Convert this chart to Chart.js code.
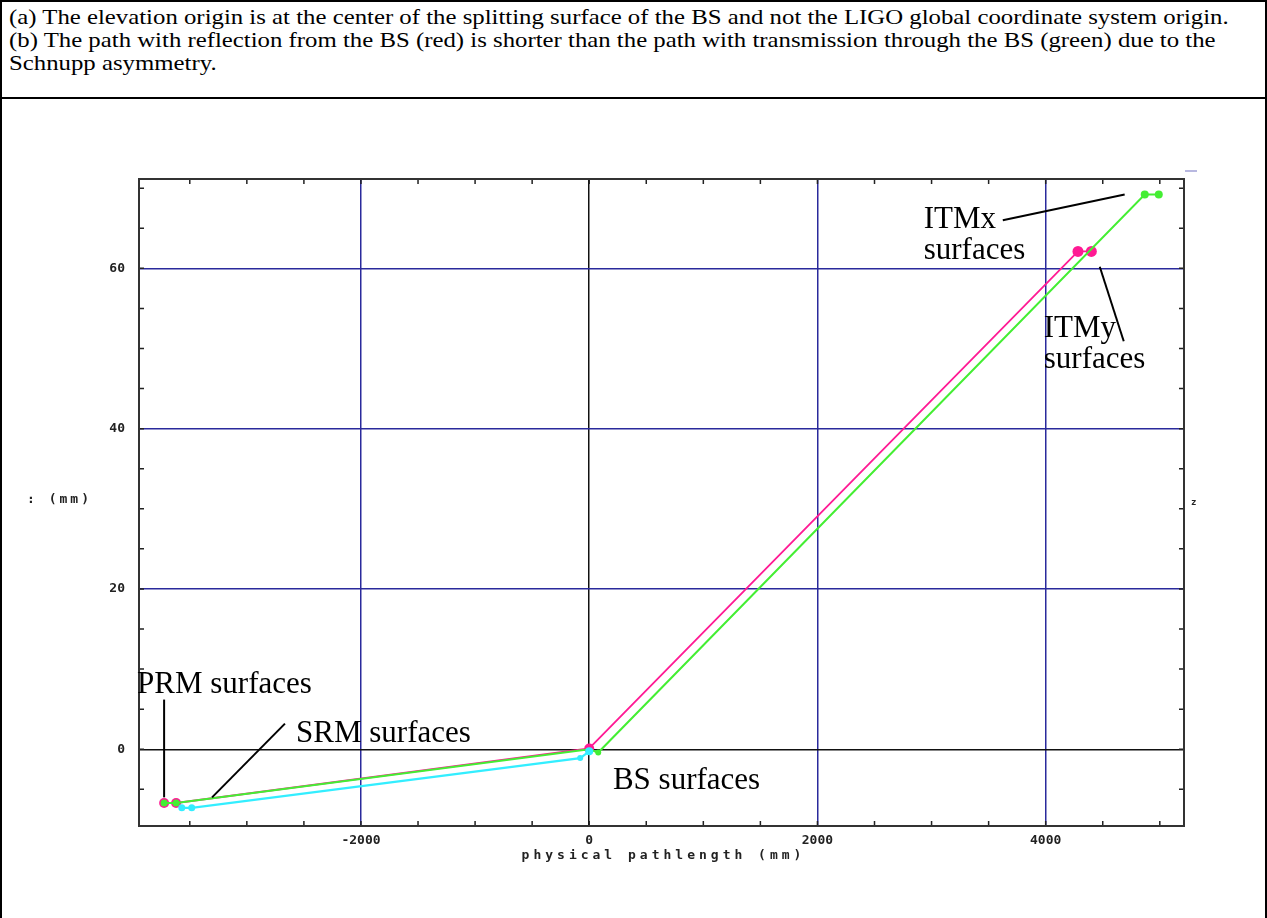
<!DOCTYPE html>
<html>
<head>
<meta charset="utf-8">
<script src="https://cdn.jsdelivr.net/npm/chart.js@4.4.1/dist/chart.umd.min.js"></script>
<style>
html,body{margin:0;padding:0;background:#fff;}
body{width:1267px;height:918px;position:relative;overflow:hidden;}
#wrap{position:absolute;left:0;top:0;width:1267px;height:918px;}
#frame{position:absolute;left:0;top:0;width:1263px;height:960px;border:2px solid #000;pointer-events:none;}
#note{position:absolute;left:2px;top:2px;width:1263px;height:97px;border-bottom:2px solid #000;box-sizing:border-box;
  padding:4px 0 0 7px;color:#000;background:#fff;overflow:hidden;}
#note div{font-family:"Liberation Serif","Times New Roman",serif;font-size:21px;line-height:23px;white-space:nowrap;
  transform:scaleX(1.18);transform-origin:0 0;}
#tab{position:absolute;left:1185px;top:170px;width:12px;height:2px;background:#b8b8e0;}
</style>
</head>
<body>
<div id="wrap"><canvas id="c"></canvas></div>
<div id="note"><div>(a) The elevation origin is at the center of the splitting surface of the BS and not the LIGO global coordinate system origin.<br>(b) The path with reflection from the BS (red) is shorter than the path with transmission through the BS (green) due to the<br>Schnupp asymmetry.</div></div>
<div id="frame"></div>
<div id="tab"></div>
<script>
// reflected path (red): PRM -> BS -> ITMy
const redX = [-3725, -3620, 0, 4283, 4400];
const redY = [-6.7, -6.7, 0.1, 62.1, 62.1];
// transmitted path (green): PRM -> BS -> ITMx
const greenX = [-3725, -3620, 0, 79, 4868, 4991];
const greenY = [-6.7, -6.7, 0, -0.4, 69.2, 69.2];
// SRM -> BS (cyan)
const cyanX = [-3570, -3483, -79, 0];
const cyanY = [-7.3, -7.3, -1.1, -0.25];

const xRange = [-3945, 5212];
const yRange = [-9.57, 71.14];
const xTicks = [-3500, -3000, -2500, -2000, -1500, -1000, -500, 0, 500, 1000, 1500, 2000, 2500, 3000, 3500, 4000, 4500, 5000];
const yTicks = [-5, 0, 5, 10, 15, 20, 25, 30, 35, 40, 45, 50, 55, 60, 65, 70];
const xLabels = [-2000, 0, 2000, 4000];
const yLabels = [0, 20, 40, 60];

// labels with leader lines, in data units
const notes = [
  {lines:['PRM surfaces'], x:-3962, y:7.0},
  {lines:['SRM surfaces'], x:-2569, y:0.9},
  {lines:['BS surfaces'], x:208, y:-5.0},
  {lines:['ITMx','surfaces'], x:2931, y:65.0},
  {lines:['ITMy','surfaces'], x:3983, y:51.4}
];
const leaders = [
  [[-3725, 6.2], [-3725, -6.0]],
  [[-2666, 3.2], [-3305, -6.0]],
  [[3624, 66.0], [4692, 69.2]],
  [[4474, 60.2], [4684, 50.9]]
];

const pts = (xs, ys) => xs.map((x, i) => ({x, y: ys[i]}));

const decor = {
  id: 'decor',
  afterDatasetsDraw(chart){
    const {ctx, chartArea: a, scales: {x, y}} = chart;
    ctx.save();
    // inward ticks on all four sides
    ctx.strokeStyle = '#222'; ctx.lineWidth = 1.5;
    ctx.beginPath();
    xTicks.forEach(v => {
      const px = x.getPixelForValue(v);
      ctx.moveTo(px, a.bottom); ctx.lineTo(px, a.bottom - 5);
      ctx.moveTo(px, a.top); ctx.lineTo(px, a.top + 5);
    });
    yTicks.forEach(v => {
      const py = y.getPixelForValue(v);
      ctx.moveTo(a.left, py); ctx.lineTo(a.left + 5, py);
      ctx.moveTo(a.right, py); ctx.lineTo(a.right - 5, py);
    });
    ctx.stroke();
    ctx.strokeStyle = '#333'; ctx.lineWidth = 2;
    ctx.strokeRect(a.left, a.top, a.right - a.left, a.bottom - a.top);

    // leader lines + labels
    ctx.strokeStyle = '#000'; ctx.lineWidth = 2;
    leaders.forEach(l => {
      ctx.beginPath();
      ctx.moveTo(x.getPixelForValue(l[0][0]), y.getPixelForValue(l[0][1]));
      ctx.lineTo(x.getPixelForValue(l[1][0]), y.getPixelForValue(l[1][1]));
      ctx.stroke();
    });
    ctx.fillStyle = '#000';
    ctx.font = '31px "Liberation Serif", "Times New Roman", serif';
    ctx.textAlign = 'left'; ctx.textBaseline = 'alphabetic';
    notes.forEach(n => {
      n.lines.forEach((s, i) => ctx.fillText(s, x.getPixelForValue(n.x), y.getPixelForValue(n.y) + i * 31));
    });

    // axis titles
    ctx.font = 'bold 13px "DejaVu Sans Mono", monospace';
    ctx.fillStyle = '#222';
    ctx.letterSpacing = '4px';
    ctx.textAlign = 'center'; ctx.textBaseline = 'middle';
    ctx.fillText('physical pathlength (mm)', (a.left + a.right) / 2 + 2, a.bottom + 30);
    ctx.textAlign = 'left';
    ctx.letterSpacing = '3px';
    ctx.fillText(': (mm)', 27, y.getPixelForValue(31.1));
    ctx.letterSpacing = '0px';
    ctx.font = 'bold 9px "DejaVu Sans Mono", monospace';
    ctx.fillText('z', a.right + 7, y.getPixelForValue(30.8));
    ctx.restore();
  }
};

const gridColor = (ctx, major) => {
  const v = ctx.tick ? ctx.tick.value : NaN;
  if (v === 0) return '#111';
  if (major.includes(v)) return '#2a2a9c';
  return 'rgba(0,0,0,0)';
};
const tickFont = {family: '"DejaVu Sans Mono", monospace', size: 13, weight: 'bold'};

new Chart(document.getElementById('c'), {
  type: 'scatter',
  data: {
    datasets: [
      {label:'SRM', data: pts(cyanX, cyanY), showLine:true, borderColor:'#33eeff', backgroundColor:'#33eeff',
       borderWidth:2.2, pointRadius:[3.5, 3.5, 3, 4], pointBorderWidth:0, tension:0, order:1},
      {label:'transmission', data: pts(greenX, greenY), showLine:true, borderColor:'#44ee33', backgroundColor:'#44ee33',
       borderWidth:2, pointRadius:[3.5, 3.5, 0, 3, 4, 4], pointBorderWidth:0, tension:0, order:2},
      {label:'reflection', data: pts(redX, redY), showLine:true, borderColor:'#ff1a94', backgroundColor:'#ff1a94',
       borderWidth:1.8, pointRadius:[5, 5, 5, 5.5, 5.5], pointBorderWidth:0, tension:0, order:3}
    ]
  },
  options: {
    responsive: true, maintainAspectRatio: false, animation: false,
    layout: {padding: {left: 0, top: 179, right: 83, bottom: 0}},
    plugins: {legend: {display: false}, tooltip: {enabled: false}},
    scales: {
      x: {
        type: 'linear', min: xRange[0], max: xRange[1],
        afterBuildTicks: s => { s.ticks = xTicks.map(v => ({value: v})); },
        afterFit: s => { s.height = 92; },
        border: {display: false},
        grid: {drawTicks: false, lineWidth: 1.5, color: c => gridColor(c, xLabels)},
        ticks: {autoSkip: false, maxRotation: 0, padding: 7, color: '#222', font: tickFont,
          callback: v => (xLabels.includes(v) ? String(v) : '')}
      },
      y: {
        type: 'linear', min: yRange[0], max: yRange[1],
        afterBuildTicks: s => { s.ticks = yTicks.map(v => ({value: v})); },
        afterFit: s => { s.width = 139; },
        border: {display: false},
        grid: {drawTicks: false, lineWidth: 1.5, color: c => gridColor(c, yLabels)},
        ticks: {autoSkip: false, padding: 14, color: '#222', font: tickFont,
          callback: v => (yLabels.includes(v) ? String(v) : '')}
      }
    }
  },
  plugins: [decor]
});
</script>
</body>
</html>
